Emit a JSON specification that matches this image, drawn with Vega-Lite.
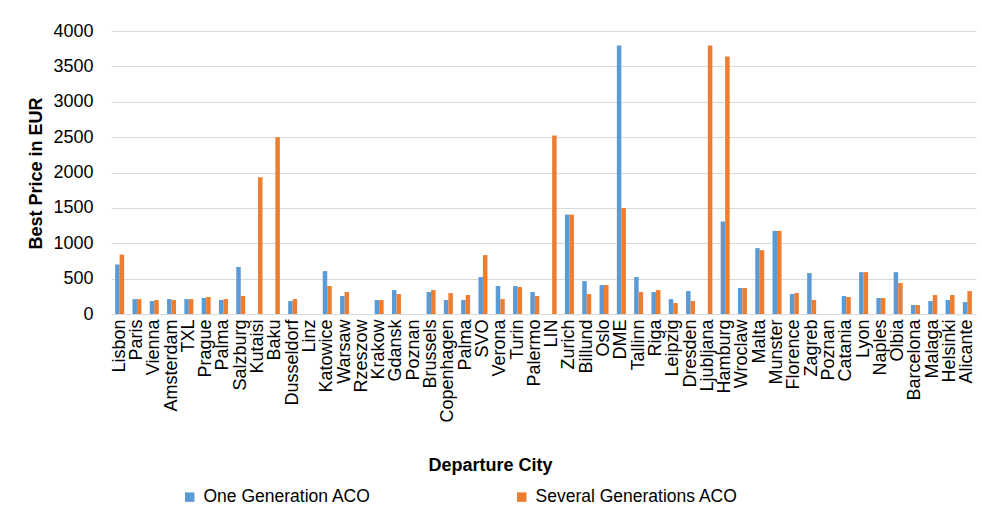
{
  "$schema": "https://vega.github.io/schema/vega-lite/v6.json",
  "autosize": {"type": "none"},
  "width": 865,
  "height": 283,
  "padding": {"left": 111, "top": 31, "right": 6, "bottom": 208},
  "background": "white",
  "config": {
    "font": "Liberation Sans",
    "view": {"stroke": null},
    "axis": {"labelColor": "#000000", "titleColor": "#000000"}
  },
  "data": {
    "values": [
      {"city": "Lisbon", "One Generation ACO": 700, "Several Generations ACO": 840},
      {"city": "Paris", "One Generation ACO": 210, "Several Generations ACO": 210},
      {"city": "Vienna", "One Generation ACO": 183, "Several Generations ACO": 197},
      {"city": "Amsterdam", "One Generation ACO": 211, "Several Generations ACO": 197},
      {"city": "TXL", "One Generation ACO": 211, "Several Generations ACO": 211},
      {"city": "Prague", "One Generation ACO": 226, "Several Generations ACO": 240},
      {"city": "Palma", "One Generation ACO": 197, "Several Generations ACO": 211},
      {"city": "Salzburg", "One Generation ACO": 665, "Several Generations ACO": 254},
      {"city": "Kutaisi", "One Generation ACO": 0, "Several Generations ACO": 1932},
      {"city": "Baku", "One Generation ACO": 0, "Several Generations ACO": 2500},
      {"city": "Dusseldorf", "One Generation ACO": 183, "Several Generations ACO": 211},
      {"city": "Linz", "One Generation ACO": 0, "Several Generations ACO": 0},
      {"city": "Katowice", "One Generation ACO": 606, "Several Generations ACO": 395},
      {"city": "Warsaw", "One Generation ACO": 254, "Several Generations ACO": 310},
      {"city": "Rzeszow", "One Generation ACO": 0, "Several Generations ACO": 0},
      {"city": "Krakow", "One Generation ACO": 197, "Several Generations ACO": 197},
      {"city": "Gdansk", "One Generation ACO": 338, "Several Generations ACO": 282},
      {"city": "Poznan", "One Generation ACO": 0, "Several Generations ACO": 0},
      {"city": "Brussels", "One Generation ACO": 310, "Several Generations ACO": 338},
      {"city": "Copenhagen", "One Generation ACO": 197, "Several Generations ACO": 296},
      {"city": "Palma\u200b", "One Generation ACO": 197, "Several Generations ACO": 268},
      {"city": "SVO", "One Generation ACO": 522, "Several Generations ACO": 832},
      {"city": "Verona", "One Generation ACO": 395, "Several Generations ACO": 211},
      {"city": "Turin", "One Generation ACO": 395, "Several Generations ACO": 381},
      {"city": "Palermo", "One Generation ACO": 310, "Several Generations ACO": 254},
      {"city": "LIN", "One Generation ACO": 0, "Several Generations ACO": 2524},
      {"city": "Zurich", "One Generation ACO": 1405, "Several Generations ACO": 1405},
      {"city": "Billund", "One Generation ACO": 465, "Several Generations ACO": 282},
      {"city": "Oslo", "One Generation ACO": 409, "Several Generations ACO": 409},
      {"city": "DME", "One Generation ACO": 3795, "Several Generations ACO": 1500},
      {"city": "Tallinn", "One Generation ACO": 522, "Several Generations ACO": 310},
      {"city": "Riga", "One Generation ACO": 310, "Several Generations ACO": 338},
      {"city": "Leipzig", "One Generation ACO": 211, "Several Generations ACO": 155},
      {"city": "Dresden", "One Generation ACO": 324, "Several Generations ACO": 183},
      {"city": "Ljubljana", "One Generation ACO": 0, "Several Generations ACO": 3795},
      {"city": "Hamburg", "One Generation ACO": 1307, "Several Generations ACO": 3638},
      {"city": "Wroclaw", "One Generation ACO": 367, "Several Generations ACO": 367},
      {"city": "Malta", "One Generation ACO": 931, "Several Generations ACO": 902},
      {"city": "Munster", "One Generation ACO": 1175, "Several Generations ACO": 1175},
      {"city": "Florence", "One Generation ACO": 282, "Several Generations ACO": 296},
      {"city": "Zagreb", "One Generation ACO": 578, "Several Generations ACO": 197},
      {"city": "Poznan\u200b", "One Generation ACO": 0, "Several Generations ACO": 0},
      {"city": "Catania", "One Generation ACO": 254, "Several Generations ACO": 240},
      {"city": "Lyon", "One Generation ACO": 592, "Several Generations ACO": 592},
      {"city": "Naples", "One Generation ACO": 226, "Several Generations ACO": 226},
      {"city": "Olbia", "One Generation ACO": 592, "Several Generations ACO": 437},
      {"city": "Barcelona", "One Generation ACO": 127, "Several Generations ACO": 127},
      {"city": "Malaga", "One Generation ACO": 183, "Several Generations ACO": 268},
      {"city": "Helsinki", "One Generation ACO": 197, "Several Generations ACO": 268},
      {"city": "Alicante", "One Generation ACO": 169, "Several Generations ACO": 324}
    ]
  },
  "transform": [
    {"fold": ["One Generation ACO", "Several Generations ACO"], "as": ["series", "price"]}
  ],
  "mark": {"type": "bar"},
  "encoding": {
    "x": {
      "field": "city",
      "type": "nominal",
      "sort": null,
      "scale": {"paddingInner": 0.48, "paddingOuter": 0.24},
      "axis": {
        "title": "Departure City",
        "titleFontSize": 18,
        "titleFontWeight": "bold",
        "titleX": 379,
        "titleY": 151,
        "titleBaseline": "middle",
        "labelAngle": -90,
        "labelFontSize": 18,
        "labelPadding": 5,
        "labelOverlap": false,
        "labelLimit": 200,
        "ticks": false,
        "domainColor": "#D9D9D9",
        "domainWidth": 1,
        "grid": false
      }
    },
    "xOffset": {"field": "series", "type": "nominal", "scale": {"paddingInner": 0, "paddingOuter": 0}},
    "y": {
      "field": "price",
      "type": "quantitative",
      "scale": {"domain": [0, 4000], "nice": false},
      "axis": {
        "title": "Best Price in EUR",
        "titleFontSize": 18,
        "titleFontWeight": "bold",
        "titleX": -75,
        "titleY": 142,
        "titleAngle": -90,
        "titleBaseline": "middle",
        "titleAlign": "center",
        "values": [0, 500, 1000, 1500, 2000, 2500, 3000, 3500, 4000],
        "format": "d",
        "labelFontSize": 18,
        "labelPadding": 18,
        "ticks": false,
        "domain": false,
        "grid": true,
        "gridColor": "#D9D9D9",
        "gridWidth": 1
      }
    },
    "color": {
      "field": "series",
      "type": "nominal",
      "scale": {
        "domain": ["One Generation ACO", "Several Generations ACO"],
        "range": ["#5B9BD5", "#ED7D31"]
      },
      "legend": {
        "title": null,
        "orient": "none",
        "legendX": 70,
        "legendY": 457,
        "direction": "horizontal",
        "symbolType": "square",
        "symbolSize": 90,
        "labelFontSize": 17.5,
        "labelLimit": 400,
        "labelColor": "#000000",
        "labelOffset": 5,
        "columnPadding": 142
      }
    }
  }
}
